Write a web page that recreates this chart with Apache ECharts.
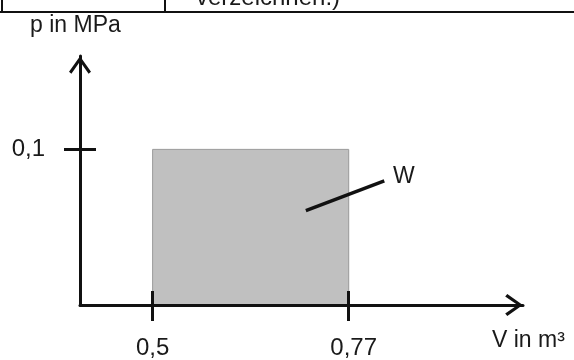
<!DOCTYPE html>
<html>
<head>
<meta charset="utf-8">
<script src="https://cdn.jsdelivr.net/npm/echarts@6/dist/echarts.min.js"></script>
<style>html,body{margin:0;padding:0;background:#fff}#c{width:574px;height:360px}</style>
</head>
<body>
<div id="c"></div>
<script>
// ---- data ----
const xTicks = [0.5, 0.77];          // V in m³
const yTicks = [0.1];                // p in MPa
const areaV = [0.5, 0.5, 0.77, 0.77];
const areaP = [0, 0.1, 0.1, 0];
const leaderV = [0.711, 0.819];      // leader line to label W
const leaderP = [0.0606, 0.0797];
const xName = 'V in m³';
const yName = 'p in MPa';
const areaName = 'W';
const headerText = 'verzeichnen.)';

const FONT = 'Liberation Sans, Arial, sans-serif';
const INK = '#111';
const TXT = '#1a1a1a';
const fmt = v => String(v).replace('.', ',');
const chevron = 'path://M11 0 L22 15.5 L19.6 17.6 L11 5.2 L2.4 17.6 L0 15.5 Z';

const chart = echarts.init(document.getElementById('c'), null, {renderer: 'canvas'});
const xRange = {min: 0.4, max: 1.01};
const yRange = {min: 0, max: 0.16};

function txt(text, x, y, size) {
  return {type: 'text', z: 10, style: {text, x, y, verticalAlign: 'middle', fontSize: size, fontFamily: FONT, fill: TXT}};
}

chart.setOption({
  animation: false,
  grid: {left: 80, top: 56, width: 443, height: 251, containLabel: false},
  xAxis: [{
    // ticks crossing the axis line + labels
    type: 'value', ...xRange, position: 'bottom', offset: -14, z: 5,
    splitLine: {show: false},
    axisLine: {show: false, onZero: false},
    axisTick: {show: true, customValues: xTicks, length: 30, lineStyle: {color: INK, width: 3}},
    axisLabel: {show: true, customValues: xTicks, margin: 45, fontSize: 24, fontFamily: FONT, color: TXT,
      formatter: v => v === 0.77 ? '{r|' + fmt(v) + '}' : fmt(v),
      rich: {r: {fontSize: 24, fontFamily: FONT, color: TXT, padding: [0, 0, 0, 10]}}}
  }, {
    // axis line with arrow
    type: 'value', ...xRange, position: 'bottom', z: 5,
    splitLine: {show: false},
    axisLine: {show: true, onZero: false, lineStyle: {color: INK, width: 3},
      symbol: ['none', chevron], symbolSize: [22, 18], symbolOffset: [0, -9]},
    axisTick: {show: false},
    axisLabel: {show: false}
  }],
  yAxis: [{
    type: 'value', ...yRange, position: 'left', offset: -16, z: 5,
    splitLine: {show: false},
    axisLine: {show: false, onZero: false},
    axisTick: {show: true, customValues: yTicks, length: 32, lineStyle: {color: INK, width: 3}},
    axisLabel: {show: true, customValues: yTicks, margin: 51, fontSize: 24, fontFamily: FONT, color: TXT, formatter: fmt}
  }, {
    type: 'value', ...yRange, position: 'left', z: 5,
    splitLine: {show: false},
    axisLine: {show: true, onZero: false, lineStyle: {color: INK, width: 3},
      symbol: ['none', chevron], symbolSize: [22, 18], symbolOffset: [0, -9]},
    axisTick: {show: false},
    axisLabel: {show: false}
  }],
  series: [{
    type: 'line', name: areaName, xAxisIndex: 0, yAxisIndex: 0,
    data: areaV.map((v, i) => [v, areaP[i]]),
    symbol: 'none', z: 1,
    lineStyle: {color: '#9a9a9a', width: 1},
    areaStyle: {color: '#c0c0c0', opacity: 1}
  }, {
    type: 'line', xAxisIndex: 0, yAxisIndex: 0,
    data: leaderV.map((v, i) => [v, leaderP[i]]),
    symbol: 'none', z: 3,
    lineStyle: {color: INK, width: 3.5}
  }, {
    type: 'line', xAxisIndex: 1, yAxisIndex: 1, data: [], symbol: 'none'
  }],
  graphic: [
    txt(headerText, 196, -1.5, 24),
    {type: 'rect', z: 11, shape: {x: 0, y: 11, width: 574, height: 2}, style: {fill: '#111'}},
    {type: 'rect', z: 11, shape: {x: 1, y: 0, width: 2, height: 12}, style: {fill: '#111'}},
    {type: 'rect', z: 11, shape: {x: 164, y: 0, width: 2, height: 12}, style: {fill: '#111'}},
    txt(yName, 30, 26, 23),
    txt(xName, 492, 341, 23),
    txt(areaName, 393, 176.5, 23)
  ]
});
</script>
</body>
</html>
